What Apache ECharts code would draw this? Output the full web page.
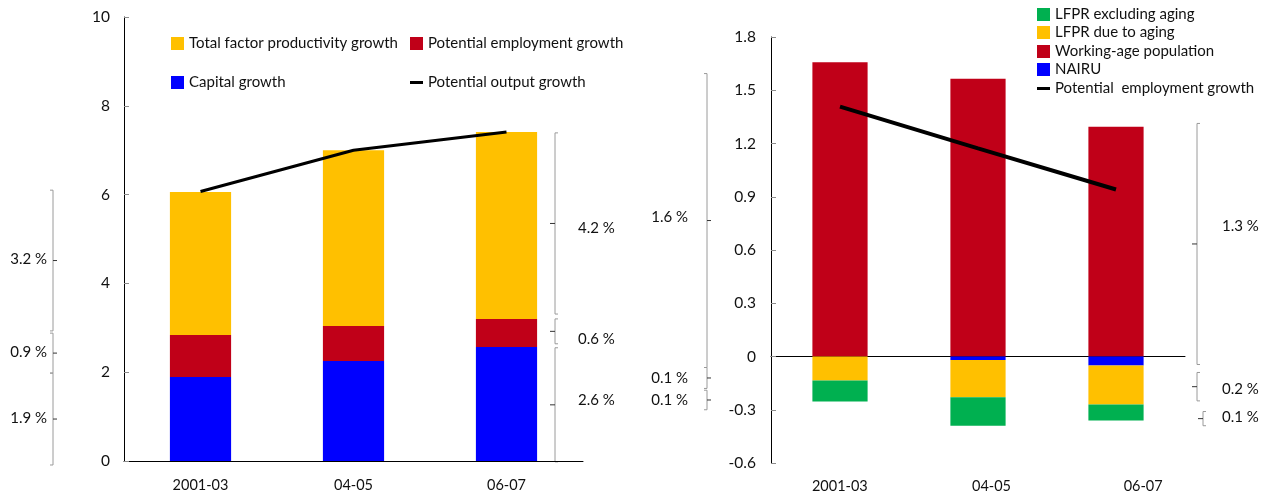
<!DOCTYPE html>
<html>
<head>
<meta charset="utf-8">
<script src="https://cdn.jsdelivr.net/npm/echarts@6/dist/echarts.min.js"></script>
<style>
  html, body { margin: 0; padding: 0; background: #ffffff; }
  #chart { width: 1264px; height: 495px; }
</style>
</head>
<body>
<div id="chart"></div>
<script>
// ---- Data -------------------------------------------------------------
const periods = ['2001-03', '04-05', '06-07'];

// Potential output growth decomposition (percent)
const capitalGrowth    = [1.89, 2.25, 2.57];
const employmentGrowth = [0.95, 0.79, 0.63];
const tfpGrowth        = [3.22, 3.96, 4.21];
const outputGrowth     = [6.07, 7.00, 7.41];
const outputAxis       = [0, 10, 2];          // min, max, step

// Potential employment growth decomposition (percent)
const workingAgePop    = [1.658, 1.565, 1.294];
const nairu            = [0, -0.02, -0.05];
const lfprAging        = [-0.135, -0.21, -0.22];
const lfprExAging      = [-0.119, -0.16, -0.09];
const employmentPath   = [1.408, 1.173, 0.941];
const employmentAxis   = [-0.6, 1.8, 0.3];    // min, max, step

// Bracket annotations: value spans [from, to] and their labels
const outBracketSpansA  = [[6.10, 2.93], [2.88, 1.98], [1.98, -0.09]];
const outBracketLabelsA = ['3.2 %', '0.9 %', '1.9 %'];
const outBracketSpansB  = [[7.39, 3.31], [3.20, 2.64], [2.55, -0.02]];
const outBracketLabelsB = ['4.2 %', '0.6 %', '2.6 %'];
const empBracketSpansA  = [[1.594, -0.062], [-0.062, -0.18], [-0.19, -0.30]];
const empBracketLabelsA = ['1.6 %', '0.1 %', '0.1 %'];
const empBracketSpansB  = [[1.313, -0.045], [-0.09, -0.25], [-0.31, -0.39]];
const empBracketLabelsB = ['1.3 %', '0.2 %', '0.1 %'];

// ---- Style ------------------------------------------------------------
const FONT = 'Lato, "Open Sans", sans-serif';
const C_TFP = '#FFC000', C_EMP = '#C00018', C_CAP = '#0000FF', C_GREEN = '#00B050';

const chart = echarts.init(document.getElementById('chart'), null, { renderer: 'canvas' });

function valueAxis(grid, range, margin) {
  return {
    type: 'value', gridIndex: grid,
    min: range[0], max: range[1], interval: range[2],
    axisLine: { show: true, lineStyle: { color: '#000', width: 1 } },
    axisTick: { show: true, inside: true, length: 5, lineStyle: { color: '#8c8c8c' } },
    splitLine: { show: false },
    axisLabel: { fontSize: 15.5, color: '#111', fontFamily: FONT, margin: margin }
  };
}

function legendItem(name, left, top, isLine) {
  return {
    data: [name], left: left, top: top, padding: 0,
    icon: 'rect', itemWidth: 13, itemHeight: isLine ? 3 : 13,
    selectedMode: false,
    textStyle: { fontSize: 15, color: '#111', fontFamily: FONT }
  };
}

const option = {
  animation: false,
  backgroundColor: '#ffffff',
  textStyle: { fontFamily: FONT },
  grid: [
    { left: 124, top: 17, width: 459, height: 444 },
    { left: 771, top: 37, width: 414, height: 426 },
    { left: 764, top: 37, width: 455, height: 426 }
  ],
  xAxis: [
    {
      type: 'category', gridIndex: 0, data: periods,
      axisLine: { lineStyle: { color: '#000', width: 1 } },
      axisTick: { inside: true, length: 5, lineStyle: { color: '#8c8c8c' } },
      axisLabel: { margin: 17, fontSize: 14.5, color: '#111', fontFamily: FONT }
    },
    {
      type: 'category', gridIndex: 1, data: periods,
      axisLine: { onZero: true, lineStyle: { color: '#000', width: 1 } },
      axisTick: { inside: true, length: 5, lineStyle: { color: '#8c8c8c' } },
      axisLabel: { show: false }
    },
    {
      type: 'category', gridIndex: 2, data: periods,
      axisLine: { show: false }, axisTick: { show: false },
      axisLabel: { margin: 16, fontSize: 14.5, color: '#111', fontFamily: FONT }
    }
  ],
  yAxis: [
    valueAxis(0, outputAxis, 14),
    valueAxis(1, employmentAxis, 15),
    { type: 'value', gridIndex: 2, show: false, min: employmentAxis[0], max: employmentAxis[1] }
  ],
  legend: [
    legendItem('Total factor productivity growth', 171, 36, false),
    legendItem('Potential employment growth', 410, 36, false),
    legendItem('Capital growth', 171, 75, false),
    legendItem('Potential output growth', 410, 75, true),
    legendItem('LFPR excluding aging', 1037, 7, false),
    legendItem('LFPR due to aging', 1037, 25, false),
    legendItem('Working-age population', 1037, 44, false),
    legendItem('NAIRU', 1037, 62, false),
    legendItem('Potential  employment growth', 1037, 81, true)
  ],
  series: [
    { name: 'Capital growth', type: 'bar', xAxisIndex: 0, yAxisIndex: 0, stack: 'out',
      barWidth: '40%', itemStyle: { color: C_CAP }, data: capitalGrowth },
    { name: 'Potential employment growth', type: 'bar', xAxisIndex: 0, yAxisIndex: 0, stack: 'out',
      barWidth: '40%', itemStyle: { color: C_EMP }, data: employmentGrowth },
    { name: 'Total factor productivity growth', type: 'bar', xAxisIndex: 0, yAxisIndex: 0, stack: 'out',
      barWidth: '40%', itemStyle: { color: C_TFP }, data: tfpGrowth },
    { name: 'Potential output growth', type: 'line', xAxisIndex: 0, yAxisIndex: 0, z: 5,
      symbol: 'none', lineStyle: { color: '#000', width: 3 }, itemStyle: { color: '#000' },
      data: outputGrowth },

    { name: 'Working-age population', type: 'bar', xAxisIndex: 1, yAxisIndex: 1, stack: 'emp',
      barWidth: '40%', itemStyle: { color: C_EMP }, data: workingAgePop },
    { name: 'NAIRU', type: 'bar', xAxisIndex: 1, yAxisIndex: 1, stack: 'emp',
      barWidth: '40%', itemStyle: { color: C_CAP }, data: nairu },
    { name: 'LFPR due to aging', type: 'bar', xAxisIndex: 1, yAxisIndex: 1, stack: 'emp',
      barWidth: '40%', itemStyle: { color: C_TFP }, data: lfprAging },
    { name: 'LFPR excluding aging', type: 'bar', xAxisIndex: 1, yAxisIndex: 1, stack: 'emp',
      barWidth: '40%', itemStyle: { color: C_GREEN }, data: lfprExAging },
    { name: 'Potential  employment growth', type: 'line', xAxisIndex: 1, yAxisIndex: 1, z: 5,
      symbol: 'none', lineStyle: { color: '#000', width: 4 }, itemStyle: { color: '#000' },
      data: employmentPath }
  ]
};

chart.setOption(option);

// ---- Bracket annotations, placed through the value axes ---------------
// side: 'right' => label right of bracket ("{"), 'left' => label left ("}")
const bracketGroups = [
  { axis: 0, spans: outBracketSpansA, labels: outBracketLabelsA, x: [53, 53, 53], side: 'left',  labelX: 47,  labelDy: [-1, -1, -1] },
  { axis: 0, spans: outBracketSpansB, labels: outBracketLabelsB, x: [555, 555, 555], side: 'right', labelX: 578, labelDy: [5, 8, -5] },
  { axis: 1, spans: empBracketSpansA, labels: empBracketLabelsA, x: [707, 707, 707], side: 'left',  labelX: 688, labelDy: [-3, 0, 0] },
  { axis: 1, spans: empBracketSpansB, labels: empBracketLabelsB, x: [1197, 1197, 1203], side: 'right', labelX: 1222, labelDy: [-18, 2, -1] }
];

const graphics = [];
bracketGroups.forEach(function (g) {
  g.spans.forEach(function (span, i) {
    const y1 = chart.convertToPixel({ yAxisIndex: g.axis }, span[0]);
    const y2 = chart.convertToPixel({ yAxisIndex: g.axis }, span[1]);
    const x = g.x[i];
    const mid = (y1 + y2) / 2;
    const hook = g.side === 'right' ? 3 : -3;
    const tick = g.side === 'right' ? -5 : 4;
    graphics.push({
      type: 'polyline', silent: true,
      shape: { points: [[x + hook, y1], [x, y1], [x, y2], [x + hook, y2]] },
      style: { stroke: '#9a9a9a', lineWidth: 1, fill: null }
    });
    graphics.push({
      type: 'line', silent: true,
      shape: { x1: x, y1: mid, x2: x + tick, y2: mid },
      style: { stroke: '#333', lineWidth: 1 }
    });
    graphics.push({
      type: 'text', silent: true,
      x: g.labelX, y: mid + g.labelDy[i],
      style: {
        text: g.labels[i], fill: '#111', fontSize: 15, fontFamily: FONT,
        align: g.side === 'right' ? 'left' : 'right', verticalAlign: 'middle'
      }
    });
  });
});

chart.setOption({ graphic: graphics });
</script>
</body>
</html>
